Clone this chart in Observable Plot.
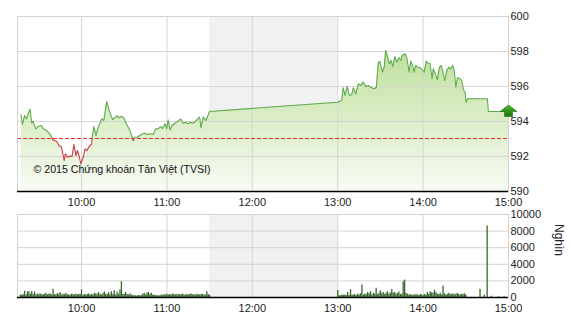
<!DOCTYPE html>
<html><head><meta charset="utf-8">
<script src="https://cdn.jsdelivr.net/npm/d3@7"></script>
<script src="https://cdn.jsdelivr.net/npm/@observablehq/plot@0.6"></script>
<style>
body{margin:0;background:#fff;}
#chart{width:570px;height:320px;position:relative;overflow:hidden;background:#fff}
#chart svg{display:block}
</style></head><body><div id="chart"></div>
<script>
// ---------- data ----------
const sessionStart = "09:15:00";
const sessionEnd = "15:00:00";
const breakStart = "11:30:00";
const breakEnd = "13:00:00";
const hourTicks = ["10:00:00","11:00:00","12:00:00","13:00:00","14:00:00","15:00:00"];
const priceTicks = [590, 592, 594, 596, 598, 600];
const volumeTicks = [0, 2000, 4000, 6000, 8000, 10000];
const refValue = 593.03;
const copyrightText = "© 2015 Chứng khoán Tân Việt (TVSI)";
const volumeLabel = "Nghìn";

const priceTimes = [
"09:17:30","09:18:30","09:20:00","09:21:20","09:22:30","09:23:50","09:25:00","09:26:00","09:27:40","09:29:30",
"09:31:50","09:33:00","09:35:20","09:37:40","09:40:00","09:42:20","09:44:10","09:45:50","09:47:50","09:48:40",
"09:50:10","09:51:50","09:53:20","09:54:40","09:56:00","09:57:10","09:58:20","09:59:30","10:01:10","10:02:30",
"10:03:50","10:05:20","10:07:00","10:07:40","10:08:40","10:10:10","10:11:40","10:12:50","10:14:10","10:15:40",
"10:17:40","10:19:50","10:21:50","10:23:20","10:25:00","10:26:20","10:28:10","10:29:40","10:31:40","10:33:30",
"10:35:10","10:36:20","10:37:30","10:39:10","10:41:00","10:42:50","10:44:30","10:46:10","10:48:00","10:50:20",
"10:52:00","10:53:50","10:55:30","10:57:00","10:58:40","10:59:50","11:00:50","11:02:10","11:03:40","11:05:40",
"11:07:50","11:09:40","11:11:20","11:13:20","11:15:00","11:16:40","11:18:30","11:20:50","11:22:40","11:23:10",
"11:23:50","11:25:30","11:27:20","11:30:00",
"13:00:00","13:02:50","13:03:50","13:05:10","13:06:40","13:08:10","13:09:50","13:11:00","13:12:40","13:14:30",
"13:16:10","13:18:00","13:19:40","13:21:30","13:23:50","13:25:40","13:27:10","13:28:30","13:29:40","13:31:20",
"13:32:40","13:33:40","13:34:50","13:36:20","13:37:30","13:38:40","13:40:10","13:41:30","13:43:10","13:44:20",
"13:45:20","13:47:20","13:48:30","13:50:10","13:51:20","13:52:40","13:53:40","13:54:50","13:56:10","13:57:50",
"13:59:30","14:00:50","14:02:10","14:03:20","14:04:50","14:06:20","14:07:10","14:08:40","14:10:00","14:11:30",
"14:12:50","14:14:10","14:15:10","14:16:40","14:18:00","14:19:20","14:20:50","14:22:00","14:23:00","14:24:10",
"14:26:00","14:27:10","14:28:20","14:29:30","14:30:10","14:31:10","14:45:10","14:45:50","15:00:00"
];
const priceValues = [
594.38,593.83,594.34,594.15,594.44,594.70,593.90,594.02,593.58,593.71,
593.77,593.58,593.49,593.30,592.95,592.87,592.63,592.53,591.77,592.15,
591.96,592.02,592.00,592.69,592.06,592.34,592.00,591.58,591.96,592.44,
592.34,592.57,592.69,593.20,593.71,593.20,593.67,593.87,594.15,594.06,
595.14,594.53,594.11,594.21,594.34,594.21,594.29,594.21,593.83,593.58,
593.20,592.91,593.10,593.10,593.20,593.30,593.33,593.26,593.30,593.26,
593.58,593.58,593.71,593.60,593.87,593.58,594.10,593.52,593.77,593.90,
594.02,594.15,593.90,593.96,593.87,593.96,593.90,594.06,594.25,594.15,
593.64,594.25,594.06,594.57,
595.10,595.20,595.93,595.49,596.00,595.49,595.54,595.93,595.58,596.15,
596.06,596.25,596.00,596.06,595.93,595.87,595.96,597.39,597.43,596.82,
597.10,598.06,597.77,597.30,597.49,597.14,597.71,597.39,597.64,597.49,
597.77,597.87,597.67,596.82,597.45,597.20,596.82,597.20,597.10,597.07,
596.95,596.82,597.45,597.33,597.30,596.44,597.01,596.69,596.38,597.10,
597.20,596.72,596.34,596.91,597.10,597.01,597.20,596.82,595.96,596.50,
596.44,596.34,595.81,595.67,595.10,595.30,595.30,594.57,594.57
];

// volume (thousand shares), one bar per minute
const volMorningStart = "09:17:00";
const volMorning = [
300,280,350,750,300,680,700,400,720,350,
650,300,400,380,420,300,350,380,500,320,
380,420,300,1000,350,300,450,380,600,300,
400,350,500,320,300,280,400,350,300,420,
300,350,400,900,250,380,300,350,420,300,
380,300,500,420,380,600,350,300,450,650,
400,350,600,320,700,350,800,300,650,380,
900,1900,380,400,600,350,300,420,300,200,
250,200,180,250,200,220,400,500,300,550,
600,350,500,280,300,200,250,180,200,300,
250,350,300,400,280,350,300,420,350,300,
380,300,350,320,420,300,280,380,300,350,
420,300,350,280,400,320,300,350,380,300,
280,680,350,250
];
const volAfternoonStart = "13:00:00";
const volAfternoon = [
850,250,200,300,280,300,250,600,250,950,
300,280,350,250,400,300,450,1500,300,400,
350,600,450,700,300,500,400,1100,350,500,
800,450,600,350,500,700,400,550,950,500,
600,400,500,650,350,400,1900,2100,500,400,
300,350,250,300,280,350,300,250,400,300,
250,350,300,600,400,700,550,500,900,600,
400,350,500,300,1400,450,300,350,500,400,
350,450,300,400,500,350,300,400,350,450,
300
];
const lateTimes = ["14:40:00","14:43:00","14:45:00","14:48:00","14:53:00","14:57:00"];
const lateValues = [1000, 300, 8600, 150, 100, 100];

// ---------- build ----------
const parseT = s => { const [h,m,sec] = s.split(":").map(Number); return new Date(Date.UTC(2015,0,5,h,m,sec||0)); };
const addMin = (d, n) => new Date(d.getTime() + n*60000);
const price = priceTimes.map((t,i) => ({t: parseT(t), v: priceValues[i]}));
const volume = [
  ...volMorning.map((v,i) => ({t: addMin(parseT(volMorningStart), i), v})),
  ...volAfternoon.map((v,i) => ({t: addMin(parseT(volAfternoonStart), i), v})),
  ...lateTimes.map((t,i) => ({t: parseT(t), v: lateValues[i]}))
];
const xDomain = [parseT(sessionStart), parseT(sessionEnd)];
const hours = hourTicks.map(parseT);
const gridHours = hours.slice(0, -1);
const band = [{x1: parseT(breakStart), x2: parseT(breakEnd)}];
const fmt = d3.utcFormat("%H:%M");
const lastPoint = price[price.length - 1];

const plotStyle = {fontFamily: "'Liberation Sans', Arial, sans-serif", fontSize: "11px", color: "#222", background: "transparent", overflow: "visible"};
const gridColor = "#d3d3d3";

const arrowUp = { draw(ctx) {
  ctx.moveTo(0,-6.5); ctx.lineTo(8.5,0); ctx.lineTo(4,0); ctx.lineTo(4,5);
  ctx.lineTo(-4,5); ctx.lineTo(-4,0); ctx.lineTo(-8.5,0); ctx.closePath();
}};

const TOP_H = 213;
const priceChart = Plot.plot({
  width: 570, height: TOP_H, marginLeft: 17, marginRight: 62, marginTop: 16, marginBottom: 22,
  style: plotStyle,
  x: {type: "utc", domain: xDomain},
  y: {domain: [590, 600]},
  marks: [
    Plot.rect(band, {x1: "x1", x2: "x2", y1: 590, y2: 600, fill: "#f1f1f1"}),
    Plot.areaY(price, {x: "t", y1: 590, y2: "v", fill: "url(#areaGrad)"}),
    Plot.gridX(gridHours, {stroke: gridColor, strokeOpacity: 0.9}),
    Plot.gridY(priceTicks, {stroke: gridColor, strokeOpacity: 0.9}),
    Plot.ruleY([refValue], {stroke: "#e8321f", strokeDasharray: "4,2", strokeWidth: 1}),
    Plot.line(price, {x: "t", y: "v", stroke: "url(#lineGrad)", strokeWidth: 1.1}),
    Plot.frame({stroke: gridColor}),
    Plot.ruleY([590], {stroke: "#000", strokeWidth: 1.5}),
    Plot.axisY({anchor: "right", ticks: priceTicks, tickSize: 0, tickPadding: 2, label: null, fontSize: 11}),
    Plot.axisX({ticks: hours, tickFormat: fmt, tickSize: 0, tickPadding: 7, label: null, fontSize: 11}),
    Plot.text([copyrightText], {text: d => d, frameAnchor: "bottom-left", dx: 16, dy: -19, textAnchor: "start", fontSize: 10.6, fill: "#111"}),
    Plot.dot([lastPoint], {x: "t", y: "v", symbol: arrowUp, r: 8, fill: "url(#arrowGrad)", stroke: "#1d6b12", strokeWidth: 0.6})
  ]
});

const volumeChart = Plot.plot({
  width: 570, height: 107, marginLeft: 17, marginRight: 62, marginTop: 1, marginBottom: 23,
  style: plotStyle,
  x: {type: "utc", domain: xDomain},
  y: {domain: [0, 10000]},
  marks: [
    Plot.rect(band, {x1: "x1", x2: "x2", y1: 0, y2: 10000, fill: "#f1f1f1"}),
    Plot.gridX(gridHours, {stroke: gridColor, strokeOpacity: 1}),
    Plot.gridY(volumeTicks, {stroke: gridColor, strokeOpacity: 1}),
    Plot.ruleX(volume, {x: "t", y1: 0, y2: "v", stroke: "#3a672b", strokeWidth: 1.3}),
    Plot.frame({stroke: gridColor}),
    Plot.ruleY([0], {stroke: "#000", strokeWidth: 1.5}),
    Plot.axisY({anchor: "right", ticks: volumeTicks, tickFormat: d => String(d), tickSize: 0, tickPadding: 2, label: null, fontSize: 11}),
    Plot.axisX({ticks: hours, tickFormat: fmt, tickSize: 0, tickPadding: 7, label: null, fontSize: 11}),
    Plot.text([volumeLabel], {text: d => d, frameAnchor: "right", dx: 50, rotate: 90, fontSize: 12, fill: "#222"})
  ]
});

const svgNS = "http://www.w3.org/2000/svg";
const yRef = priceChart.scale("y").apply(refValue);
const defs = document.createElementNS(svgNS, "defs");
defs.innerHTML = `
<linearGradient id="areaGrad" x1="0" y1="0" x2="0" y2="1">
  <stop offset="0" stop-color="#bfe09c"/><stop offset="1" stop-color="#f8fbf4"/>
</linearGradient>
<linearGradient id="lineGrad" gradientUnits="userSpaceOnUse" x1="0" y1="0" x2="0" y2="${TOP_H}">
  <stop offset="${yRef / TOP_H}" stop-color="#5fab4d"/><stop offset="${yRef / TOP_H}" stop-color="#cf3a4a"/>
</linearGradient>
<linearGradient id="arrowGrad" x1="0" y1="0" x2="0" y2="1">
  <stop offset="0" stop-color="#4fb82e"/><stop offset="1" stop-color="#1c720d"/>
</linearGradient>`;
priceChart.insertBefore(defs, priceChart.firstChild);

document.getElementById("chart").append(priceChart, volumeChart);
</script></body></html>
